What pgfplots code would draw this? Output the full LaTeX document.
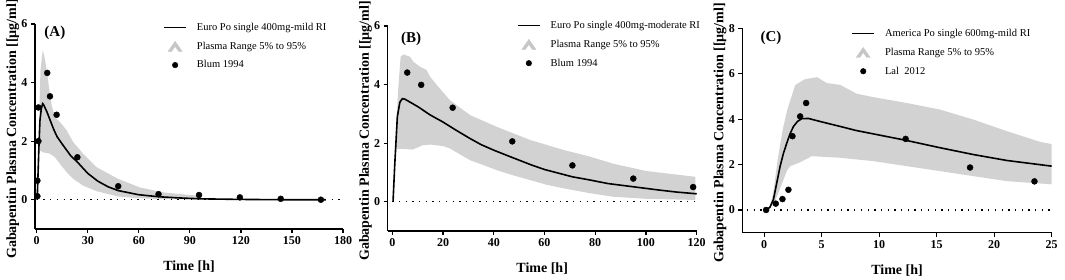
\documentclass[border=0pt]{standalone}
\usepackage{fontspec}
\setmainfont{Liberation Serif}
\usepackage{pgfplots}
\pgfplotsset{compat=1.18}

\pgfplotsset{
  gp/.style={
    scale only axis,
    axis x line=bottom, axis y line=left,
    axis line style={-, line width=1.2pt},
    tick style={black, line width=1.2pt},
    tick align=outside, major tick length=4pt,
    minor tick num=0,
    ticklabel style={font=\bfseries\fontsize{12}{12}\selectfont},
    /pgf/number format/assume math mode=true,
    xlabel={Time [h]},
    ylabel={Gabapentin Plasma Concentration [[µg/ml]},
    xlabel style={font=\bfseries\fontsize{14}{14}\selectfont, at={(axis description cs:0.5,-0.185)}, anchor=center},
    ylabel style={font=\bfseries\fontsize{14}{14}\selectfont, at={(axis description cs:-0.072,0.488)}, anchor=center},
    legend style={draw=none, fill=none, inner sep=0pt, row sep=6pt,
      font=\fontsize{10.5}{12}\selectfont, cells={anchor=west},
      /tikz/every odd column/.append style={column sep=8pt}},
    clip=false,
  },
  band/.style={fill=gray!35, draw=none, forget plot},
  model/.style={black, line width=1.6pt, forget plot},
  obs/.style={only marks, mark=*, mark size=3pt, black, forget plot},
  zero/.style={black, line width=1.3pt, dash pattern=on 1.3pt off 5.4pt, forget plot},
}
\newcommand{\legendset}[1]{%
  \addlegendimage{legend image code/.code={\draw[black,line width=1.6pt] (0pt,0pt) -- (22pt,0pt);}}
  \addlegendentry{#1}
  \addlegendimage{legend image code/.code={\fill[gray!45] (4pt,-5pt) -- (11pt,5pt) -- (18pt,-5pt) -- (14.5pt,-5pt) -- (11pt,0pt) -- (7.5pt,-5pt) -- cycle;}}
  \addlegendentry{Plasma Range 5\% to 95\%}
}

\begin{document}
\begin{tikzpicture}
\useasboundingbox (0pt,0pt) rectangle (1065pt,280pt);

% ---------------- Panel A ----------------
\begin{axis}[gp, at={(35pt,51pt)}, anchor=south west, width=308pt, height=205pt,
  xmin=-1, xmax=180, ymin=-1, ymax=6,
  xtick={0,30,60,90,120,150,180}, ytick={0,2,4,6},
  legend style={at={(axis description cs:0.416,1.015)}, anchor=north west}]
\addplot[band] coordinates {
 (1.5,1.7) (1.7,3.3) (2.2,4.4) (3.5,5.1) (4.5,4.9) (5.9,4.42) (7.2,3.85) (8.8,3.22)
 (10.7,2.82) (13.7,2.65) (17.6,2.37) (21.5,1.96) (27.3,1.57) (35.2,1.11) (47.9,0.71)
 (60.6,0.42) (74.3,0.25) (93.9,0.14) (96,0.1)
 (96,0.01) (74.3,0.02) (60.6,0.05) (47.9,0.11) (35.2,0.29) (27.3,0.48) (21.5,0.71)
 (17.6,0.94) (13.7,1.22) (10.7,1.45) (7.8,1.57) (3.5,1.62) (1.5,1.7)} -- cycle;
\addplot[zero] coordinates {(0,0) (180,0)};
\addplot[model] coordinates {
 (0.3,0) (0.8,0.9) (1.3,1.8) (1.9,2.7) (2.7,3.1) (3.5,3.28) (4,3.25) (6,3.0) (8,2.7)
 (10,2.4) (12,2.15) (15.6,1.85) (20,1.5) (24,1.28) (30,0.9) (36,0.63) (42,0.44)
 (48,0.31) (60,0.17) (72,0.1) (84,0.06) (96,0.03) (120,0.01) (144,0) (170,0)};
\addplot[obs] coordinates {
 (0.4,0.12) (0.4,0.65) (1,2.0) (1,3.15) (6.2,4.33) (7.8,3.53) (11.7,2.9)
 (23.9,1.45) (47.9,0.46) (71.6,0.19) (95.4,0.16) (119.4,0.08) (143.4,0.03) (167,0.0)};
\legendset{Euro Po single 400mg-mild RI}
\addlegendimage{legend image code/.code={\fill[black] (11pt,0pt) circle (2.8pt);}}
\addlegendentry{Blum 1994}
\node[font=\bfseries\fontsize{15}{15}\selectfont] at (axis cs:10.7,5.69) {(A)};
\end{axis}

% ---------------- Panel B ----------------
\begin{axis}[gp, at={(387.7pt,49pt)}, anchor=south west, width=309pt, height=205pt,
  xmin=-1.8, xmax=120, ymin=-1, ymax=6,
  xtick={0,20,40,60,80,100,120}, ytick={0,2,4,6},
  legend style={at={(axis description cs:0.418,1.034)}, anchor=north west}]
\addplot[band] coordinates {
 (1.0,1.75) (2.4,3.93) (3.3,4.95) (4.3,5.03) (7,4.95) (8.3,4.78) (10.9,4.61) (13.5,4.5)
 (14.9,4.27) (17.4,4.0) (22.7,3.47) (30.6,2.96) (41.1,2.56) (54.3,2.11) (67.4,1.77)
 (77.9,1.54) (87,1.3) (100,1.05) (119.5,0.85)
 (119.5,0.06) (100,0.1) (87,0.17) (77.9,0.29) (67.4,0.46) (60.8,0.58) (54.3,0.74)
 (47.7,0.9) (41.1,1.08) (35,1.28) (30.6,1.42) (26,1.65) (22.7,1.82) (20,1.9) (15,1.95)
 (12,1.93) (10,1.85) (8,1.78) (5,1.8) (2,1.8) (1.0,1.75)} -- cycle;
\addplot[zero] coordinates {(0,0) (120,0)};
\addplot[model] coordinates {
 (0.3,0) (1,1.3) (2,2.9) (3,3.4) (4,3.52) (5,3.5) (10,3.25) (15,2.96) (20,2.72)
 (25,2.45) (30.6,2.16) (35,1.95) (40,1.76) (46.4,1.54) (55,1.25) (60,1.1) (71,0.85)
 (78,0.74) (85,0.62) (95,0.51) (105,0.4) (112,0.33) (120,0.27)};
\addplot[obs] coordinates {
 (5.9,4.41) (11.4,3.99) (23.8,3.21) (47.3,2.06) (71,1.24) (95,0.79) (118.6,0.50)};
\legendset{Euro Po single 400mg-moderate RI}
\addlegendimage{legend image code/.code={\fill[black] (11pt,0pt) circle (2.8pt);}}
\addlegendentry{Blum 1994}
\node[font=\bfseries\fontsize{15}{15}\selectfont] at (axis cs:7.4,5.56) {(B)};
\end{axis}

% ---------------- Panel C ----------------
\begin{axis}[gp, at={(742.3pt,47.3pt)}, anchor=south west, width=309.4pt, height=204.4pt,
  xmin=-1.9, xmax=25, ymin=-1, ymax=8,
  xtick={0,5,10,15,20,25}, ytick={0,2,4,6,8},
  legend style={at={(axis description cs:0.352,1.006)}, anchor=north west}]
\addplot[band] coordinates {
 (0.5,0.1) (0.8,0.8) (1.2,2.3) (1.6,3.5) (2.0,4.4) (2.7,5.5) (3.5,5.75) (4.6,5.85)
 (5.44,5.59) (6.6,5.51) (8.05,5.12) (9.5,4.97) (12.4,4.71) (15.3,4.42) (18.2,3.98)
 (21.1,3.47) (24,3.0) (25,2.9)
 (25,1.13) (21.1,1.27) (18.2,1.49) (15.3,1.71) (12.4,1.93) (9.5,2.15) (6.6,2.3)
 (4.14,2.37) (3.13,2.1) (2.26,1.93) (2.0,1.75) (1.5,1.1) (1.0,0.45) (0.5,0.05)} -- cycle;
\addplot[zero] coordinates {(-1.5,0) (25,0)};
\addplot[model] coordinates {
 (0.17,0) (0.5,0.12) (0.81,0.47) (1.1,1.2) (1.39,1.93) (1.68,2.5) (1.97,2.95)
 (2.25,3.35) (2.55,3.68) (2.9,3.9) (3.27,4.02) (3.85,4.03) (5,3.88) (6.6,3.68)
 (8,3.5) (9.5,3.35) (12.3,3.07) (15.3,2.74) (18.2,2.44) (21.1,2.18) (25,1.93)};
\addplot[obs] coordinates {
 (0.17,0) (1.01,0.28) (1.59,0.48) (2.11,0.89) (2.46,3.25) (3.13,4.12) (3.65,4.71)
 (12.3,3.13) (17.9,1.87) (23.5,1.26)};
\legendset{America Po single 600mg-mild RI}
\addlegendimage{legend image code/.code={\fill[black] (11pt,0pt) circle (2.8pt);}}
\addlegendentry{Lal\ \ 2012}
\node[font=\bfseries\fontsize{15}{15}\selectfont] at (axis cs:0.6,7.57) {(C)};
\end{axis}
\end{tikzpicture}
\end{document}
